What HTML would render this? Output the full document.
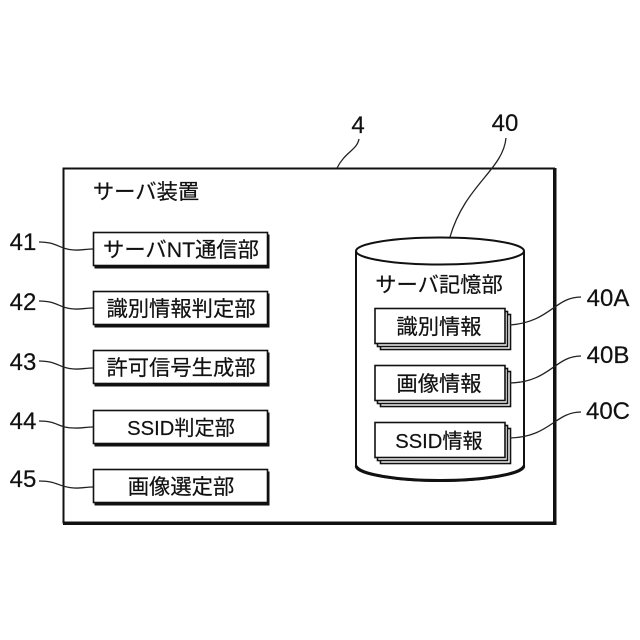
<!DOCTYPE html>
<html><head><meta charset="utf-8"><style>
html,body{margin:0;padding:0;background:#fff}
svg{display:block}
text{font-family:"Liberation Sans","Noto Sans CJK JP",sans-serif;fill:#111;text-anchor:middle;stroke:#111;stroke-width:.2}
.n{font-size:24px}
.t{font-size:21.3px}
.i{font-size:20.2px}
.c{fill:none;stroke:#222;stroke-width:1.3}
.b{fill:#fff;stroke:#111;stroke-width:1.6}
.s{fill:#111}
</style></head><body>
<svg width="640" height="640" viewBox="0 0 640 640" xmlns="http://www.w3.org/2000/svg">
<rect width="640" height="640" fill="#fff"/>
<!-- outer -->
<path d="M63.500 168.500H554V522.500H63.500Z" fill="none" stroke="#111" stroke-width="2"/>
<path d="M555 168V523.500H63" fill="none" stroke="#111" stroke-width="3"/>
<text x="146" y="199" class="t">サーバ装置</text>
<!-- left boxes -->
<g>
<rect x="94.500" y="234.500" width="175" height="34" class="s"/><rect x="93.500" y="232.500" width="174" height="33" class="b"/>
<rect x="94.500" y="293.500" width="175" height="34" class="s"/><rect x="93.500" y="291.500" width="174" height="33" class="b"/>
<rect x="94.500" y="352.500" width="175" height="34" class="s"/><rect x="93.500" y="350.500" width="174" height="33" class="b"/>
<rect x="94.500" y="412.500" width="175" height="34" class="s"/><rect x="93.500" y="410.500" width="174" height="33" class="b"/>
<rect x="94.500" y="471.500" width="175" height="34" class="s"/><rect x="93.500" y="469.500" width="174" height="33" class="b"/>
</g>
<text x="181" y="257" class="t">サーバNT通信部</text>
<text x="181" y="316" class="t">識別情報判定部</text>
<text x="181" y="375" class="t">許可信号生成部</text>
<text x="181" y="435" class="i">SSID判定部</text>
<text x="181" y="494" class="t">画像選定部</text>
<!-- left labels -->
<text x="23" y="250" class="n">41</text>
<text x="23" y="310" class="n">42</text>
<text x="23" y="370" class="n">43</text>
<text x="23" y="429" class="n">44</text>
<text x="23" y="487" class="n">45</text>
<path class="c" d="M39 242C58 242 58 249 74 250C80 250.500 86 249 93 249"/>
<path class="c" d="M39 301C58 301 58 308 74 309C80 309.500 86 308 93 308"/>
<path class="c" d="M39 361C58 361 58 368 74 369C80 369.500 86 368 93 368"/>
<path class="c" d="M39 421C58 421 58 428 74 428C80 428.500 86 427 93 427"/>
<path class="c" d="M39 481C58 481 58 487 74 488C80 488.500 86 487 93 487"/>
<!-- top labels -->
<text x="358" y="133" class="n">4</text>
<path class="c" d="M359 139C357 150 345 152 337 168"/>
<text x="505" y="131" class="n">40</text>
<path class="c" d="M506 138C503 170 465 185 450 237"/>
<!-- cylinder -->
<path d="M356 251V467C358 475 400 481 440 481C480 481 522 475 524 467V251" fill="#fff" stroke="#111" stroke-width="2"/>
<path d="M356 466C360 475 400 480.500 440 480.500C480 480.500 520 475 524 466" fill="none" stroke="#111" stroke-width="3"/>
<ellipse cx="440" cy="251" rx="84" ry="13.500" fill="#fff" stroke="#111" stroke-width="2"/>
<text x="439" y="292" class="t">サーバ記憶部</text>
<!-- stacks -->
<g>
<rect x="380.500" y="314.500" width="130" height="35" class="b"/><rect x="377.500" y="311.500" width="130" height="35" class="b"/><rect x="375" y="308.500" width="130" height="35" class="b"/>
<rect x="380.500" y="371.500" width="130" height="35" class="b"/><rect x="377.500" y="368.500" width="130" height="35" class="b"/><rect x="375" y="365.500" width="130" height="35" class="b"/>
<rect x="380.500" y="428.500" width="130" height="35" class="b"/><rect x="377.500" y="425.500" width="130" height="35" class="b"/><rect x="375" y="422.500" width="130" height="35" class="b"/>
</g>
<text x="439" y="334" class="t">識別情報</text>
<text x="439" y="391" class="t">画像情報</text>
<text x="439" y="448" class="i">SSID情報</text>
<!-- right labels -->
<text x="608" y="306" class="n">40A</text>
<text x="608" y="363" class="n">40B</text>
<text x="608" y="419" class="n">40C</text>
<path class="c" d="M510 325C550 322 555 297 581 297"/>
<path class="c" d="M510 383C550 382 555 356 581 356"/>
<path class="c" d="M510 438C550 437 555 412 581 412"/>
</svg>
</body></html>
